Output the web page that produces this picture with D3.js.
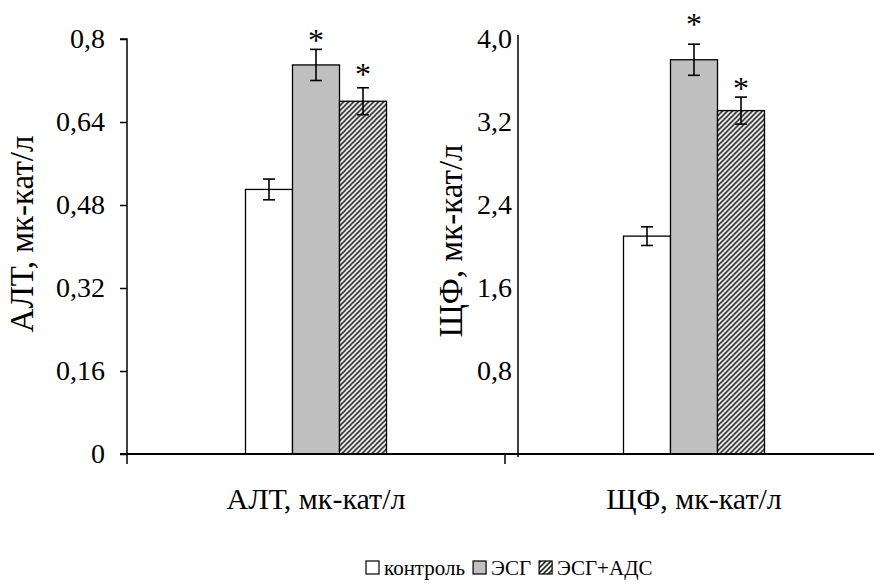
<!DOCTYPE html>
<html>
<head>
<meta charset="utf-8">
<script src="https://cdn.jsdelivr.net/npm/d3@7/dist/d3.min.js"></script>
<style>
  html, body { margin: 0; padding: 0; background: #fff; }
  svg { display: block; }
</style>
</head>
<body>
<svg id="chart" width="874" height="585"></svg>
<script>
// Two enzyme panels sharing one baseline: ALT (left axis) and ALP (right axis)
const categories = ["АЛТ, мк-кат/л", "ЩФ, мк-кат/л"];
const series = ["контроль", "ЭСГ", "ЭСГ+АДС"];

const altValues = [0.51, 0.75, 0.68];
const altErrors = [0.02, 0.03, 0.026];
const shfValues = [2.10, 3.80, 3.31];
const shfErrors = [0.09, 0.15, 0.13];
const significant = [false, true, true];

const altTicks = [0, 0.16, 0.32, 0.48, 0.64, 0.8];
const altTickLabels = ["0", "0,16", "0,32", "0,48", "0,64", "0,8"];
const shfTicks = [0.8, 1.6, 2.4, 3.2, 4.0];
const shfTickLabels = ["0,8", "1,6", "2,4", "3,2", "4,0"];

const FONT = "'Liberation Serif'";
const svg = d3.select("#chart");

// pattern for the third series: upward diagonal hatch
const defs = svg.append("defs");
const pat = defs.append("pattern")
  .attr("id", "hatch")
  .attr("patternUnits", "userSpaceOnUse")
  .attr("width", 5).attr("height", 5);
pat.append("rect").attr("width", 5).attr("height", 5).attr("fill", "#fff");
pat.append("path")
  .attr("d", "M-1,1 L1,-1 M0,5 L5,0 M4,6 L6,4")
  .attr("stroke", "#222").attr("stroke-width", 1.6);

const fills = ["#ffffff", "#c0c0c0", "url(#hatch)"];

const plotBottom = 454, plotTop = 39;
const x0 = d3.scaleBand().domain(categories).range([127, 883]).paddingInner(0).paddingOuter(0);
const groupW = 141;
const x1 = d3.scaleBand().domain(series).range([0, groupW]);
const yAlt = d3.scaleLinear().domain([0, 0.8]).range([plotBottom, plotTop]);
const yShf = d3.scaleLinear().domain([0, 4.0]).range([plotBottom, plotTop]);

// starLift: pixel distance from the error-bar cap to the asterisk baseline
const panels = [
  { cat: categories[0], values: altValues, errors: altErrors, y: yAlt, starLift: [0, -2, 3] },
  { cat: categories[1], values: shfValues, errors: shfErrors, y: yShf, starLift: [0, 9, -2] }
];

panels.forEach(p => {
  const gx = x0(p.cat) + (x0.bandwidth() - groupW) / 2;
  const g = svg.append("g").attr("transform", `translate(${gx},0)`);
  const rows = series.map((s, i) => ({ s, i, v: p.values[i], e: p.errors[i] }));

  g.selectAll("rect.bar").data(rows).join("rect")
    .attr("class", "bar")
    .attr("x", d => x1(d.s))
    .attr("y", d => p.y(d.v))
    .attr("width", x1.bandwidth())
    .attr("height", d => plotBottom - p.y(d.v))
    .attr("fill", d => fills[d.i])
    .attr("stroke", "#000").attr("stroke-width", 1.3);

  const eb = g.selectAll("g.err").data(rows).join("g").attr("class", "err")
    .attr("transform", d => `translate(${x1(d.s) + x1.bandwidth() / 2},0)`)
    .attr("stroke", "#000").attr("stroke-width", 1.6);
  eb.append("line").attr("x1", 0).attr("x2", 0)
    .attr("y1", d => p.y(d.v + d.e)).attr("y2", d => p.y(d.v - d.e));
  eb.append("line").attr("x1", -6).attr("x2", 6)
    .attr("y1", d => p.y(d.v + d.e)).attr("y2", d => p.y(d.v + d.e));
  eb.append("line").attr("x1", -6).attr("x2", 6)
    .attr("y1", d => p.y(d.v - d.e)).attr("y2", d => p.y(d.v - d.e));

  // significance marks above the error bars
  g.selectAll("text.star").data(rows.filter(d => significant[d.i])).join("text")
    .attr("class", "star")
    .attr("x", d => x1(d.s) + x1.bandwidth() / 2)
    .attr("y", d => p.y(d.v + d.e) - p.starLift[d.i])
    .attr("text-anchor", "middle")
    .style("font-family", FONT)
    .attr("font-size", 32)
    .text("*");
});

// left value axis
const axL = svg.append("g").attr("transform", "translate(127,0)")
  .call(d3.axisLeft(yAlt).tickValues(altTicks).tickSize(7).tickPadding(15)
    .tickFormat((d, i) => altTickLabels[i]));
axL.select(".domain").attr("stroke", "#000").attr("stroke-width", 1.5).attr("d", `M-7,${plotTop}H0V${plotBottom}`);
axL.selectAll(".tick line").attr("stroke", "#000").attr("stroke-width", 1.5);
axL.selectAll(".tick text").attr("font-size", 28).style("font-family", FONT).attr("fill", "#000");

// right value axis, labels only
const axR = svg.append("g").attr("transform", "translate(518,0)")
  .call(d3.axisLeft(yShf).tickValues(shfTicks).tickSize(0).tickPadding(6)
    .tickFormat((d, i) => shfTickLabels[i]));
axR.select(".domain").attr("stroke", "#000").attr("stroke-width", 1.5).attr("d", `M0,35V457`);
axR.selectAll(".tick text").attr("font-size", 28).style("font-family", FONT).attr("fill", "#000");

// category axis
const axB = svg.append("g").attr("transform", `translate(0,${plotBottom})`)
  .call(d3.axisBottom(x0).tickSize(0));
axB.select(".domain").attr("stroke", "#000").attr("stroke-width", 2).attr("d", "M120,0H874");
axB.selectAll(".tick text").attr("y", 55).attr("dy", 0)
  .attr("font-size", 30).style("font-family", FONT).attr("fill", "#000");
// tick marks between categories
axB.selectAll("line.sep").data([127, 505]).join("line").attr("class", "sep")
  .attr("x1", d => d).attr("x2", d => d).attr("y1", 0).attr("y2", 10)
  .attr("stroke", "#000").attr("stroke-width", 1.5);

// axis titles
svg.append("text").attr("transform", "translate(33,234) rotate(-90)")
  .attr("text-anchor", "middle").attr("font-size", 33).style("font-family", FONT)
  .text("АЛТ, мк-кат/л");
svg.append("text").attr("transform", "translate(462,241) rotate(-90)")
  .attr("text-anchor", "middle").attr("font-size", 33).style("font-family", FONT)
  .text("ЩФ, мк-кат/л");

// legend
const lg = svg.append("g").attr("transform", "translate(366,568)");
let lx = 0;
series.forEach((s, i) => {
  const it = lg.append("g").attr("transform", `translate(${lx},0)`);
  it.append("rect").attr("x", 0).attr("y", -7).attr("width", 13).attr("height", 13)
    .attr("fill", fills[i]).attr("stroke", "#000").attr("stroke-width", 1.2);
  const t = it.append("text").attr("x", 18).attr("y", 7).attr("font-size", 21)
    .style("font-family", FONT).text(s);
  lx += 18 + t.node().getComputedTextLength() + 8;
});
</script>
</body>
</html>
